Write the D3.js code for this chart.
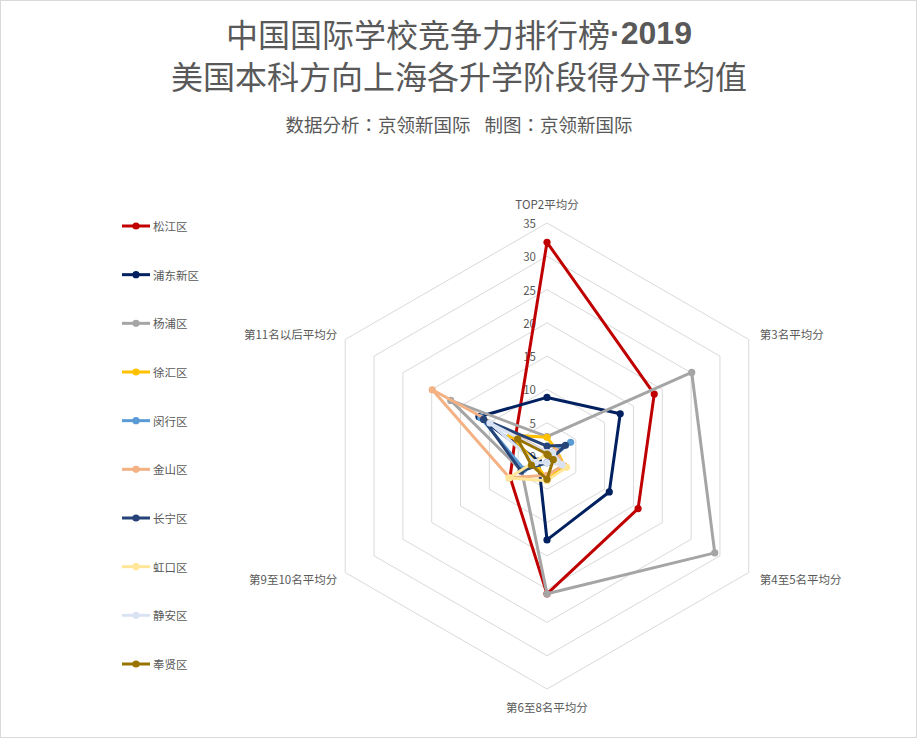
<!DOCTYPE html>
<html><head><meta charset="utf-8">
<script src="https://cdn.jsdelivr.net/npm/d3@7/dist/d3.min.js"></script>
<style>
html,body{margin:0;padding:0;background:#fff;}
svg{display:block;font-family:"Noto Sans CJK SC","Noto Sans",sans-serif;}
</style></head>
<body>
<svg id="chart" width="917" height="738"></svg>
<script>
const axesLabels = ["TOP2平均分","第3名平均分","第4至5名平均分","第6至8名平均分","第9至10名平均分","第11名以后平均分"];
const seriesNames = ["松江区","浦东新区","杨浦区","徐汇区","闵行区","金山区","长宁区","虹口区","静安区","奉贤区"];
const seriesColors = ["#C00000","#002060","#A5A5A5","#FFC000","#5B9BD5","#F4B183","#264478","#FFE699","#DAE3F3","#997300"];
const songjiang = [32.1, 18.6, 15.8, 20.7, 6.4, 5.5];
const pudong    = [8.8, 12.7, 10.8, 12.6, 1.5, 11.8];
const yangpu    = [2.9, 25.1, 29.1, 20.7, 4.4, 16.7];
const xuhui     = [2.8, 1.7, 3.0, 3.6, 2.0, 6.3];
const minhang   = [0.5, 4.1, 0.7, 1.0, 4.0, 11.5];
const jinshan   = [0.5, 1.5, 2.8, 2.9, 6.5, 19.9];
const changning = [1.5, 3.2, 0.8, 1.0, 4.5, 11.0];
const hongkou   = [0.3, 0.5, 3.4, 3.7, 6.6, 0.3];
const jingan    = [0.5, 1.0, 2.6, 1.0, 2.0, 9.9];
const fengxian  = [0.3, 0.2, 1.1, 3.5, 2.7, 5.1];
const seriesValues = [songjiang,pudong,yangpu,xuhui,minhang,jinshan,changning,hongkou,jingan,fengxian];
const tickValues = [0,5,10,15,20,25,30,35];

const svg = d3.select("#chart");
svg.append("rect").attr("x",0.5).attr("y",0.5).attr("width",916).attr("height",737)
  .attr("fill","#fff").attr("stroke","#D9D9D9");

// titles
const t1 = svg.append("text").attr("x",459).attr("y",33).attr("text-anchor","middle").attr("dominant-baseline","central")
  .attr("font-size",32).attr("fill","#595959");
t1.append("tspan").text("中国国际学校竞争力排行榜");
t1.append("tspan").attr("font-family","'Liberation Sans',sans-serif").attr("font-weight","bold").text("·2019");
svg.append("text").attr("x",459).attr("y",75).attr("text-anchor","middle").attr("dominant-baseline","central")
  .attr("font-size",32).attr("fill","#595959").text("美国本科方向上海各升学阶段得分平均值");
const st = svg.append("text").attr("x",459).attr("y",124).attr("text-anchor","middle").attr("dominant-baseline","central")
  .attr("font-size",18.5).attr("fill","#595959").attr("font-family","'Noto Sans CJK TC',sans-serif");
st.append("tspan").text("数据分析：京领新国际");
st.append("tspan").attr("dx",14).text("制图：京领新国际");

const cx = 547, cy = 456;
const r = d3.scaleLinear().domain([0,35]).range([0,233]);
const n = axesLabels.length;
const ang = d3.scaleLinear().domain([0,n]).range([0,2*Math.PI]);
const pt = (i,v) => [cx + r(v)*Math.sin(ang(i)), cy - r(v)*Math.cos(ang(i))];

const g = svg.append("g");
// grid hexagons
tickValues.filter(t=>t>0).forEach(t=>{
  const pts = d3.range(n).map(i=>pt(i,t));
  g.append("path").attr("d", d3.line()(pts)+"Z").attr("fill","none").attr("stroke","#D9D9D9").attr("stroke-width",1);
});
// tick labels
tickValues.forEach(t=>{
  g.append("text").attr("x",cx-11).attr("y",cy-r(t)).attr("text-anchor","end").attr("dominant-baseline","central")
    .attr("font-size",11.5).attr("fill","#595959").text(t);
});
// axis labels
axesLabels.forEach((lab,i)=>{
  const [vx,vy] = pt(i,35);
  const s = Math.sin(ang(i)), c = Math.cos(ang(i));
  let x = vx, y = vy, anchor = "middle";
  if (Math.abs(s) < 0.01) { y = vy + (c>0 ? -19 : 18); }
  else { x = vx + (s>0 ? 11 : -8); anchor = s>0 ? "start" : "end"; y = vy + (c>0 ? -6 : 6); }
  g.append("text").attr("x",x).attr("y",y).attr("text-anchor",anchor).attr("dominant-baseline","central")
    .attr("font-size",11.5).attr("fill","#595959").text(lab);
});

// series
const line = d3.line().curve(d3.curveLinearClosed);
seriesValues.forEach((vals,k)=>{
  const pts = vals.map((v,i)=>pt(i,v));
  g.append("path").attr("d",line(pts)).attr("fill","none").attr("stroke",seriesColors[k])
    .attr("stroke-width",3).attr("stroke-linejoin","round");
  g.selectAll(null).data(pts).enter().append("circle").attr("cx",d=>d[0]).attr("cy",d=>d[1])
    .attr("r",3.6).attr("fill",seriesColors[k]);
});

// legend
const ly = d3.scaleLinear().domain([0,seriesNames.length-1]).range([226,664]);
seriesNames.forEach((name,k)=>{
  const y = ly(k);
  svg.append("line").attr("x1",122).attr("x2",150).attr("y1",y).attr("y2",y)
    .attr("stroke",seriesColors[k]).attr("stroke-width",3);
  svg.append("circle").attr("cx",136).attr("cy",y).attr("r",3.6).attr("fill",seriesColors[k]);
  svg.append("text").attr("x",153).attr("y",y).attr("dominant-baseline","central")
    .attr("font-size",11.5).attr("fill","#595959").text(name);
});
</script>
</body></html>
